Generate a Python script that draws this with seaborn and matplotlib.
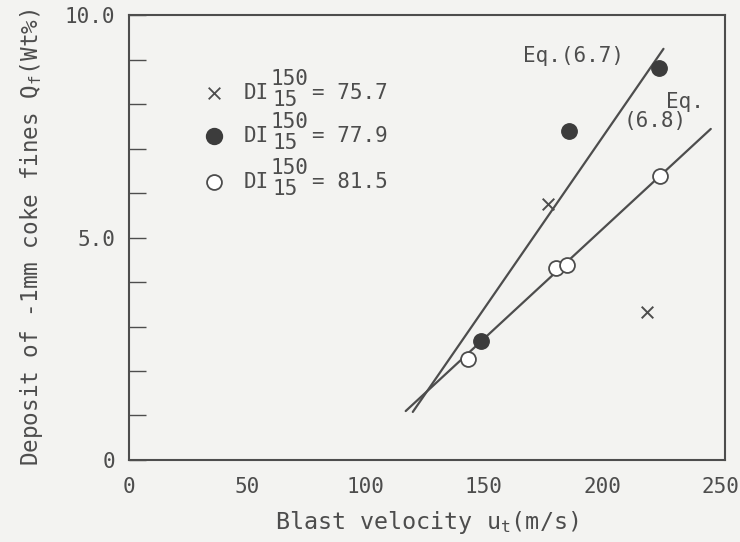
import matplotlib
matplotlib.use("Agg")
import matplotlib.pyplot as plt
import seaborn as sns
import pandas as pd

# Measured deposit of -1mm coke fines vs blast velocity, grouped by drum index
di_labels = ["75.7", "77.9", "81.5"]
vel_757 = [177, 219]
dep_757 = [5.75, 3.33]
vel_779 = [149, 186, 224]
dep_779 = [2.67, 7.39, 8.81]
vel_815 = [143.5, 180.5, 185, 224.5]
dep_815 = [2.27, 4.31, 4.38, 6.38]

# Fitted relations, Eq.(6.7) and Eq.(6.8)
eq67_vel = [120, 226]
eq67_dep = [1.08, 9.24]
eq68_vel = [117, 246]
eq68_dep = [1.10, 7.44]

x_ticks = [0, 50, 100, 150, 200, 250]
y_ticks = [0, 5.0, 10.0]
y_tick_labels = ["0", "5.0", "10.0"]

BG = "#f3f3f1"
INK = "#4d4d4d"
FONT = "DejaVu Sans Mono"

sns.set_theme(style="ticks")
plt.rcParams["font.family"] = [FONT, "DejaVu Sans"]
plt.rcParams["mathtext.fontset"] = "custom"
plt.rcParams["mathtext.rm"] = FONT
plt.rcParams["mathtext.it"] = FONT

fig = plt.figure(figsize=(7.4, 5.42), dpi=100, facecolor=BG)
ax = fig.add_axes([0.1743, 0.1513, 0.8054, 0.821])
ax.set_facecolor(BG)

lines = pd.DataFrame({
    "vel": eq67_vel + eq68_vel,
    "dep": eq67_dep + eq68_dep,
    "eq": ["6.7"] * 2 + ["6.8"] * 2,
})
sns.lineplot(data=lines, x="vel", y="dep", units="eq", estimator=None,
             color=INK, lw=1.6, ax=ax, legend=False, sort=False)

sns.scatterplot(x=vel_757, y=dep_757, marker="x", s=70, color=INK,
                linewidth=1.4, ax=ax, zorder=3)
sns.scatterplot(x=vel_779, y=dep_779, marker="o", s=125, color="#3c3c3c",
                edgecolor="#3c3c3c", ax=ax, zorder=3)
sns.scatterplot(x=vel_815, y=dep_815, marker="o", s=115, color="white",
                edgecolor=INK, linewidth=1.3, ax=ax, zorder=3)

ax.set_xlim(0, 252)
ax.set_ylim(0, 10.0)
ax.set_xticks(x_ticks)
ax.set_xticks([50, 100, 150, 200], minor=True)
ax.set_yticks(y_ticks)
ax.set_yticklabels(y_tick_labels)
ax.set_yticks([1, 2, 3, 4, 6, 7, 8, 9], minor=True)
ax.tick_params(axis="both", which="both", direction="in", colors=INK,
               labelcolor=INK, labelsize=15, length=12, width=1.0)
ax.tick_params(axis="x", which="major", length=0, pad=12)
ax.tick_params(axis="y", which="major", pad=10)
for sp in ax.spines.values():
    sp.set_color(INK)
    sp.set_linewidth(1.5)

ax.set_xlabel("Blast velocity $\\mathrm{u_t}$(m/s)", fontsize=16.8, color=INK,
              labelpad=9)
ax.set_ylabel("Deposit of -1mm coke fines $\\mathrm{Q_f}$(Wt%)", fontsize=16.3,
              color=INK, labelpad=14)

# Hand-drawn style key: DI with stacked 150 / 15 indices
key_markers = [("x", INK, INK, 70), ("o", "#3c3c3c", "#3c3c3c", 125),
               ("o", "white", INK, 115)]
key_y = [8.25, 7.28, 6.25]
for (mk, fc, ec, sz), yy, lab in zip(key_markers, key_y, di_labels):
    ax.scatter([36], [yy], marker=mk, s=sz, c=fc, edgecolors=ec,
               linewidths=1.3, zorder=3)
    ax.text(48.3, yy, "DI", fontsize=15, color=INK, va="center", ha="left")
    ax.text(60, yy + 0.32, "150", fontsize=15, color=INK, va="center", ha="left")
    ax.text(60.5, yy - 0.16, "15", fontsize=15, color=INK, va="center", ha="left")
    ax.text(77.5, yy, "= " + lab, fontsize=15, color=INK, va="center", ha="left")

ax.text(166.4, 9.08, "Eq.(6.7)", fontsize=15, color=INK, va="center", ha="left")
ax.text(227, 8.05, "Eq.", fontsize=15, color=INK, va="center", ha="left")
ax.text(209, 7.62, "(6.8)", fontsize=15, color=INK, va="center", ha="left")

fig.savefig("out.png", dpi=100, facecolor=BG)
